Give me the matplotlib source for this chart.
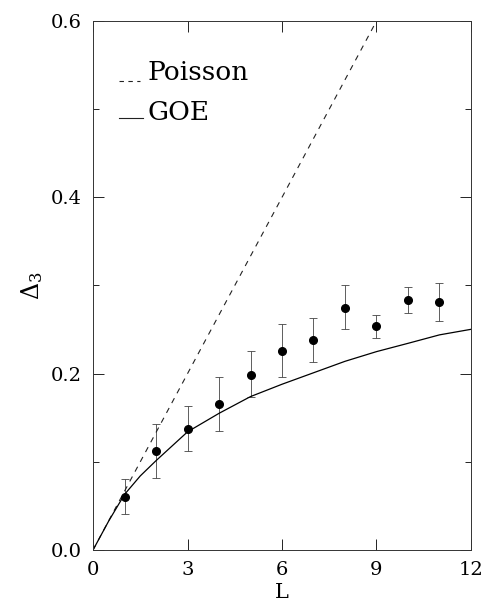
import matplotlib
matplotlib.use("Agg")
import matplotlib.pyplot as plt
from matplotlib.ticker import MultipleLocator

# Data
L_data = [1, 2, 3, 4, 5, 6, 7, 8, 9, 10, 11]
delta3 = [0.0605, 0.112, 0.137, 0.166, 0.1985, 0.226, 0.238, 0.275, 0.2537, 0.2835, 0.2816]
err_top = [0.080, 0.1425, 0.163, 0.196, 0.2257, 0.256, 0.2628, 0.300, 0.2669, 0.2986, 0.3032]
err_bot = [0.0405, 0.0817, 0.1123, 0.1353, 0.174, 0.196, 0.2132, 0.2503, 0.2404, 0.2688, 0.2597]

poisson_L = [0, 9]
poisson_d = [0.0, 0.6]

goe_L = [0, 0.5, 1, 1.5, 2, 3, 4, 5, 6, 7, 8, 9, 10, 11, 12]
goe_d = [0.0, 0.033, 0.063, 0.084, 0.1013, 0.134, 0.155, 0.174, 0.188, 0.201, 0.214, 0.225, 0.2344, 0.244, 0.2503]

plt.rcParams['font.family'] = ['DejaVu Serif']
plt.rcParams['mathtext.fontset'] = 'dejavuserif'

fig = plt.figure(figsize=(4.85, 6.09), dpi=100)
ax = fig.add_axes([0.1918, 0.0969, 0.9711 - 0.1918, 0.9655 - 0.0969])

lower = [d - b for d, b in zip(delta3, err_bot)]
upper = [t - d for d, t in zip(delta3, err_top)]
ax.errorbar(L_data, delta3, yerr=[lower, upper], fmt='o', color='black',
            markersize=5.5, elinewidth=0.6, capsize=3, capthick=0.6, ecolor='#444444')

ax.plot(poisson_L, poisson_d, linestyle=(0, (5, 5)), color='#222222', linewidth=0.8)
ax.plot(goe_L, goe_d, color='black', linewidth=0.9)

ax.set_xlim(0, 12)
ax.set_ylim(0, 0.6)
ax.xaxis.set_major_locator(MultipleLocator(3))
ax.yaxis.set_major_locator(MultipleLocator(0.2))
ax.yaxis.set_minor_locator(MultipleLocator(0.1))
ax.yaxis.set_major_formatter(plt.FuncFormatter(lambda v, p: f"{v:.1f}"))
ax.tick_params(which='both', direction='in', top=True, right=True, labelsize=14, width=0.6)
ax.tick_params(which='major', length=8, pad=8)
ax.tick_params(which='minor', length=4)
for s in ax.spines.values():
    s.set_linewidth(0.7)
    s.set_color('#333333')

ax.set_xlabel('L', fontsize=15, labelpad=3)
ax.set_ylabel(r'$\Delta_3$', fontsize=17, labelpad=4)

# legend drawn manually
ax.plot([0.069, 0.124], [0.887, 0.887], transform=ax.transAxes, color='#222222',
        linestyle=(0, (4, 4)), linewidth=0.8)
ax.text(0.145, 0.889, 'Poisson', transform=ax.transAxes, fontsize=19, va='baseline',
        ha='left', fontweight='light')
ax.plot([0.069, 0.132], [0.8165, 0.8165], transform=ax.transAxes, color='#222222',
        linewidth=0.8)
ax.text(0.145, 0.813, 'GOE', transform=ax.transAxes, fontsize=19, va='baseline',
        ha='left', fontweight='light')

fig.savefig('out.png', dpi=100)
